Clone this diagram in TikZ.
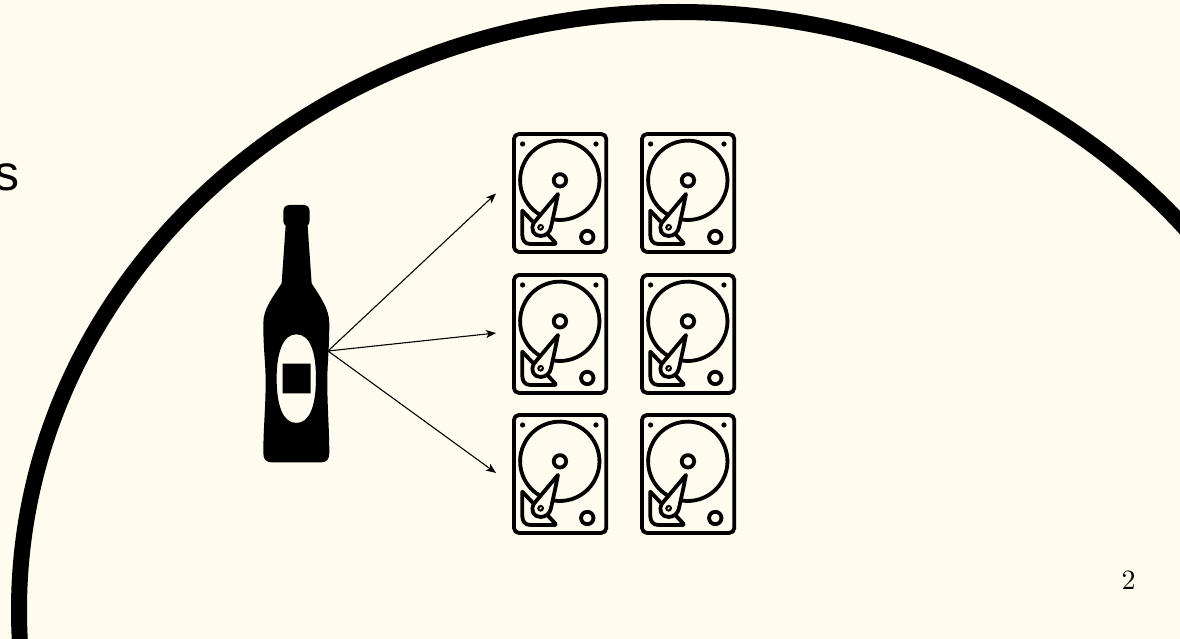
\documentclass[tikz,border=0pt]{standalone}
\usepackage{fontspec}
\newfontfamily\sansf{Liberation Sans}
\usetikzlibrary{arrows.meta}
\definecolor{paper}{HTML}{FFFBEF}
\tikzset{
  x=1pt,y=-1pt,
  link/.style={line width=1.1pt,draw=black,-{Stealth[length=10pt,width=8pt,inset=2.5pt]}},
  rim/.style={line width=16pt,draw=black},
  hddline/.style={line width=3.8pt,draw=black,line join=round,line cap=round},
  disk/.pic={
    \begin{scope}[x=0.3333pt,y=-0.3333pt,shift={(1470,360)}]
    \draw[hddline,rounded corners=5pt] (72,42) rectangle (349,396);
    \fill (98,72) circle (2.6pt) (318,72) circle (2.6pt);
    \draw[hddline] (150,284) arc[start angle=120,end angle=460,radius=119];
    \draw[hddline] (210,181) circle (6.2pt);
    \draw[hddline] (292,351) circle (6.2pt);
    \draw[hddline,rounded corners=1.5pt] (97,272) -- (97,340) .. controls (97,360) and (105,372) .. (125,372) -- (200,372) -- (172,342);
    \draw[hddline] (97,272) -- (132,309);
    \draw[hddline,fill=paper] (204,222) -- (132,308) .. controls (120,330) and (132,348) .. (152,348) .. controls (168,348) and (180,337) .. (183,322) .. controls (190,290) and (198,255) .. cycle;
    \fill (152,322) circle (3.4pt);
    \fill[paper,rotate around={50:(152,322)}] (152,322) ellipse [x radius=5,y radius=3];
    \end{scope}
  }
}
\begin{document}
\begin{tikzpicture}
\useasboundingbox (0,0) rectangle (1180,639);
\clip (0,0) rectangle (1180,639);
\fill[paper] (0,0) rectangle (1180,639);
\draw[rim] (678,610) ellipse [x radius=659,y radius=598];
\node[font=\sansf\fontsize{50}{50}\selectfont,anchor=base west,inner sep=0pt] (word) at (-6,190) {s};
\node[scale=2.8,inner sep=0pt] (page) at (1128.5,580) {2};
% bottle
\begin{scope}[x=0.3333pt,y=-0.3333pt,shift={(240*3,195*3)}]
\fill[even odd rule]
 (150,30) -- (190,30) .. controls (203,30) and (209,38) .. (209,50) -- (209,78) .. controls (209,85) and (205,88) .. (203,92)
 -- (215,265) .. controls (240,305) and (268,340) .. (268,385)
 .. controls (268,470) and (262,500) .. (262,560) .. controls (262,640) and (268,700) .. (268,775)
 .. controls (268,792) and (260,802) .. (245,802) -- (95,802) .. controls (78,802) and (70,792) .. (70,775)
 .. controls (70,700) and (77,640) .. (77,560) .. controls (77,500) and (70,470) .. (70,385)
 .. controls (70,340) and (100,305) .. (125,265) -- (137,92) .. controls (133,88) and (130,85) .. (130,78) -- (130,50) .. controls (130,38) and (136,30) .. (150,30) -- cycle
 (169,418) .. controls (212,418) and (228,475) .. (228,550) .. controls (228,630) and (210,684) .. (169,684) .. controls (128,684) and (110,630) .. (110,550) .. controls (110,475) and (128,418) .. (169,418) -- cycle
 (128,506) -- (212,506) -- (212,595) -- (128,595) -- cycle;
\end{scope}
\coordinate (src) at (328,351);
\foreach \n/\dx/\dy in {a/0/0,b/128/0,c/0/141,d/128/141,e/0/281,f/128/281}{
  \pic (\n) at (\dx,\dy) {disk};
}
\coordinate (t1) at (496,193.5);
\coordinate (t2) at (496,333);
\coordinate (t3) at (496,473);
\draw[link] (src) -- (t1);
\draw[link] (src) -- (t2);
\draw[link] (src) -- (t3);
\end{tikzpicture}
\end{document}
